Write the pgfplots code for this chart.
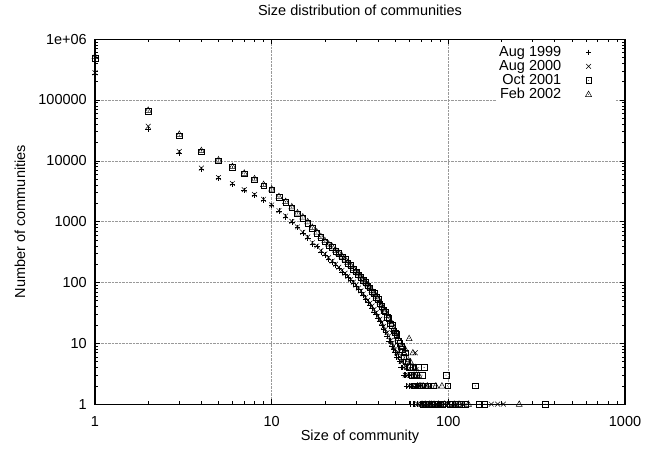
\documentclass[border=0pt]{standalone}
\usepackage{fontspec}
\setmainfont{Liberation Sans}
\usepackage{pgfplots}
\pgfplotsset{compat=1.18}
\pgfdeclareplotmark{sqdot}{%
  \pgfpathrectangle{\pgfqpoint{-\pgfplotmarksize}{-\pgfplotmarksize}}{\pgfqpoint{2\pgfplotmarksize}{2\pgfplotmarksize}}%
  \pgfusepathqstroke
  \pgfpathcircle{\pgfpointorigin}{0.45pt}\pgfusepathqfill}
\pgfdeclareplotmark{tridot}{%
  \pgfpathmoveto{\pgfqpoint{0pt}{1.1\pgfplotmarksize}}%
  \pgfpathlineto{\pgfqpoint{-\pgfplotmarksize}{-0.75\pgfplotmarksize}}%
  \pgfpathlineto{\pgfqpoint{\pgfplotmarksize}{-0.75\pgfplotmarksize}}%
  \pgfpathclose
  \pgfusepathqstroke
  \pgfpathcircle{\pgfqpoint{0pt}{0pt}}{0.45pt}\pgfusepathqfill}
\begin{document}
\fontsize{14.5}{17}\selectfont
\begin{tikzpicture}
\begin{axis}[
  scale only axis,
  width=530pt, height=365pt,
  xmode=log, ymode=log,
  xmin=1, xmax=1000, ymin=1, ymax=1000000,
  xtick={1,10,100,1000}, xticklabels={1,10,100,1000},
  ytick={1,10,100,1000,10000,100000,1000000},
  yticklabels={1,10,100,1000,10000,100000,1e+06},
  /pgf/number format/assume math mode=true,
  tick pos=both, tick align=inside,
  major tick length=5pt, minor tick length=3pt,
  every tick/.style={black, line width=0.6pt},
  grid=major,
  major grid style={densely dotted, gray!80, line width=0.6pt},
  axis line style={line width=1.1pt},
  title={Size distribution of communities},
  title style={at={(axis description cs:0.5,1.063)}, anchor=center},
  xlabel={Size of community},
  ylabel={Number of communities},
  xlabel style={at={(axis description cs:0.5,-0.0904)}, anchor=center},
  ylabel style={at={(axis description cs:-0.1415,0.5)}, anchor=center},
  yticklabel style={anchor=east, inner sep=0pt, xshift=-8pt},
  xticklabel style={anchor=center, inner sep=0pt, yshift=-17pt},
  legend plot pos=right,
  legend cell align=right,
  legend style={draw=none, fill=white, at={(1,1)}, anchor=north east,
    xshift=-10pt, yshift=-6pt, row sep=0pt, inner sep=0pt,
    nodes={inner sep=2pt, text height=9pt, text depth=1pt}},
  every axis plot/.append style={only marks, black, line width=0.5pt},
]
\pgfplotsset{every axis plot/.append style={legend image code/.code={\path (0pt,0pt) (51pt,0pt); \draw plot coordinates {(25pt,0pt)};}}}
\addplot[mark=+, mark size=2.8pt] table {
1 260000
2 33000
3 13500
4 7200
5 5100
6 4100
7 3250
8 2700
9 2250
10 1830
11 1480
12 1200
13 980
14 800
15 650
16 540
17 430
18 390
19 320
20 285
21 245
22 215
23 192
24 170
25 150
26 136
27 120
28 107
29 97
30 86
31 77
32 69
33 61
34 54
35 48
36 43
37 38
38 33
39 30
40 26
41 23
42 20
43 17
44 15
45 13
46 11
47 11
48 9
49 8
50 7
51 6
52 6
53 5
54 4
55 4
56 3
57 3
58 2
59 3
60 2
61 1
62 2
63 1
64 1
66 2
67 1
69 1
71 1
74 1
77 1
81 1
88 1
96 1
105 1
};
\addlegendentry{Aug 1999}
\addplot[mark=x, mark size=3.4pt] table {
1 280000
2 37000
3 14200
4 7600
5 5300
6 4250
7 3350
8 2800
9 2330
10 1880
11 1520
12 1240
13 1010
14 820
15 670
16 560
17 450
18 400
19 335
20 295
21 255
22 225
23 200
24 178
25 158
26 142
27 126
28 112
29 101
30 91
31 81
32 73
33 65
34 57
35 51
36 46
37 41
38 36
39 32
40 28
41 25
42 22
43 19
44 17
45 15
46 13
47 11
48 10
49 9
50 8
51 7
52 7
53 6
54 5
55 5
56 4
57 3
58 4
59 3
60 2
61 3
62 2
63 2
65 7
66 2
67 1
68 2
70 1
72 1
75 2
78 1
80 1
85 1
90 1
95 1
100 1
110 1
120 1
175 1
190 1
205 1
};
\addlegendentry{Aug 2000}
\addplot[mark=sqdot, mark size=2.8pt] table {
1 480000
2 65000
3 26000
4 14000
5 10000
6 7800
7 6100
8 4900
9 3900
10 3350
11 2500
12 2100
13 1700
14 1350
15 1150
16 950
17 780
18 650
19 550
20 470
21 410
22 380
23 325
24 300
25 265
26 240
27 205
28 190
29 165
30 150
31 135
32 122
33 108
34 100
35 88
36 82
37 70
38 66
39 57
40 53
41 45
42 41
43 35
44 33
45 27
46 26
47 21
48 20
49 16
50 15
51 14
52 11
53 10
54 9
55 8
56 6
57 7
58 5
59 5
60 4
61 4
62 3
63 4
64 3
65 2
66 3
67 2
68 4
69 2
70 2
71 3
72 1
73 4
74 2
75 1
77 2
78 1
80 1
82 2
84 1
86 1
88 1
90 1
93 1
97 3
99 2
102 1
105 1
110 1
118 1
125 1
142 2
150 1
160 1
353 1
};
\addlegendentry{Oct 2001}
\addplot[mark=tridot, mark size=3pt] table {
1 520000
2 68000
3 27500
4 14800
5 10400
6 8100
7 6300
8 5100
9 4100
10 3450
11 2600
12 2150
13 1760
14 1400
15 1200
16 1000
17 810
18 680
19 570
20 490
21 430
22 390
23 340
24 305
25 275
26 245
27 215
28 195
29 172
30 155
31 140
32 125
33 112
34 102
35 92
36 84
37 74
38 67
39 60
40 54
41 48
42 42
43 37
44 34
45 29
46 26
47 23
48 21
49 17
50 15
51 13
52 12
53 11
54 9
55 9
56 7
57 8
58 6
59 5
60 12
61 5
62 4
63 7
64 3
65 4
66 3
67 2
68 3
69 2
70 2
71 1
72 2
74 1
76 2
78 1
80 1
83 1
85 2
88 1
92 2
95 1
100 1
108 1
115 1
130 1
252 1
};
\addlegendentry{Feb 2002}
\end{axis}
\path ([xshift=-95pt,yshift=-45pt]current axis.south west) rectangle ([xshift=32pt,yshift=35pt]current axis.north east);
\end{tikzpicture}
\end{document}
